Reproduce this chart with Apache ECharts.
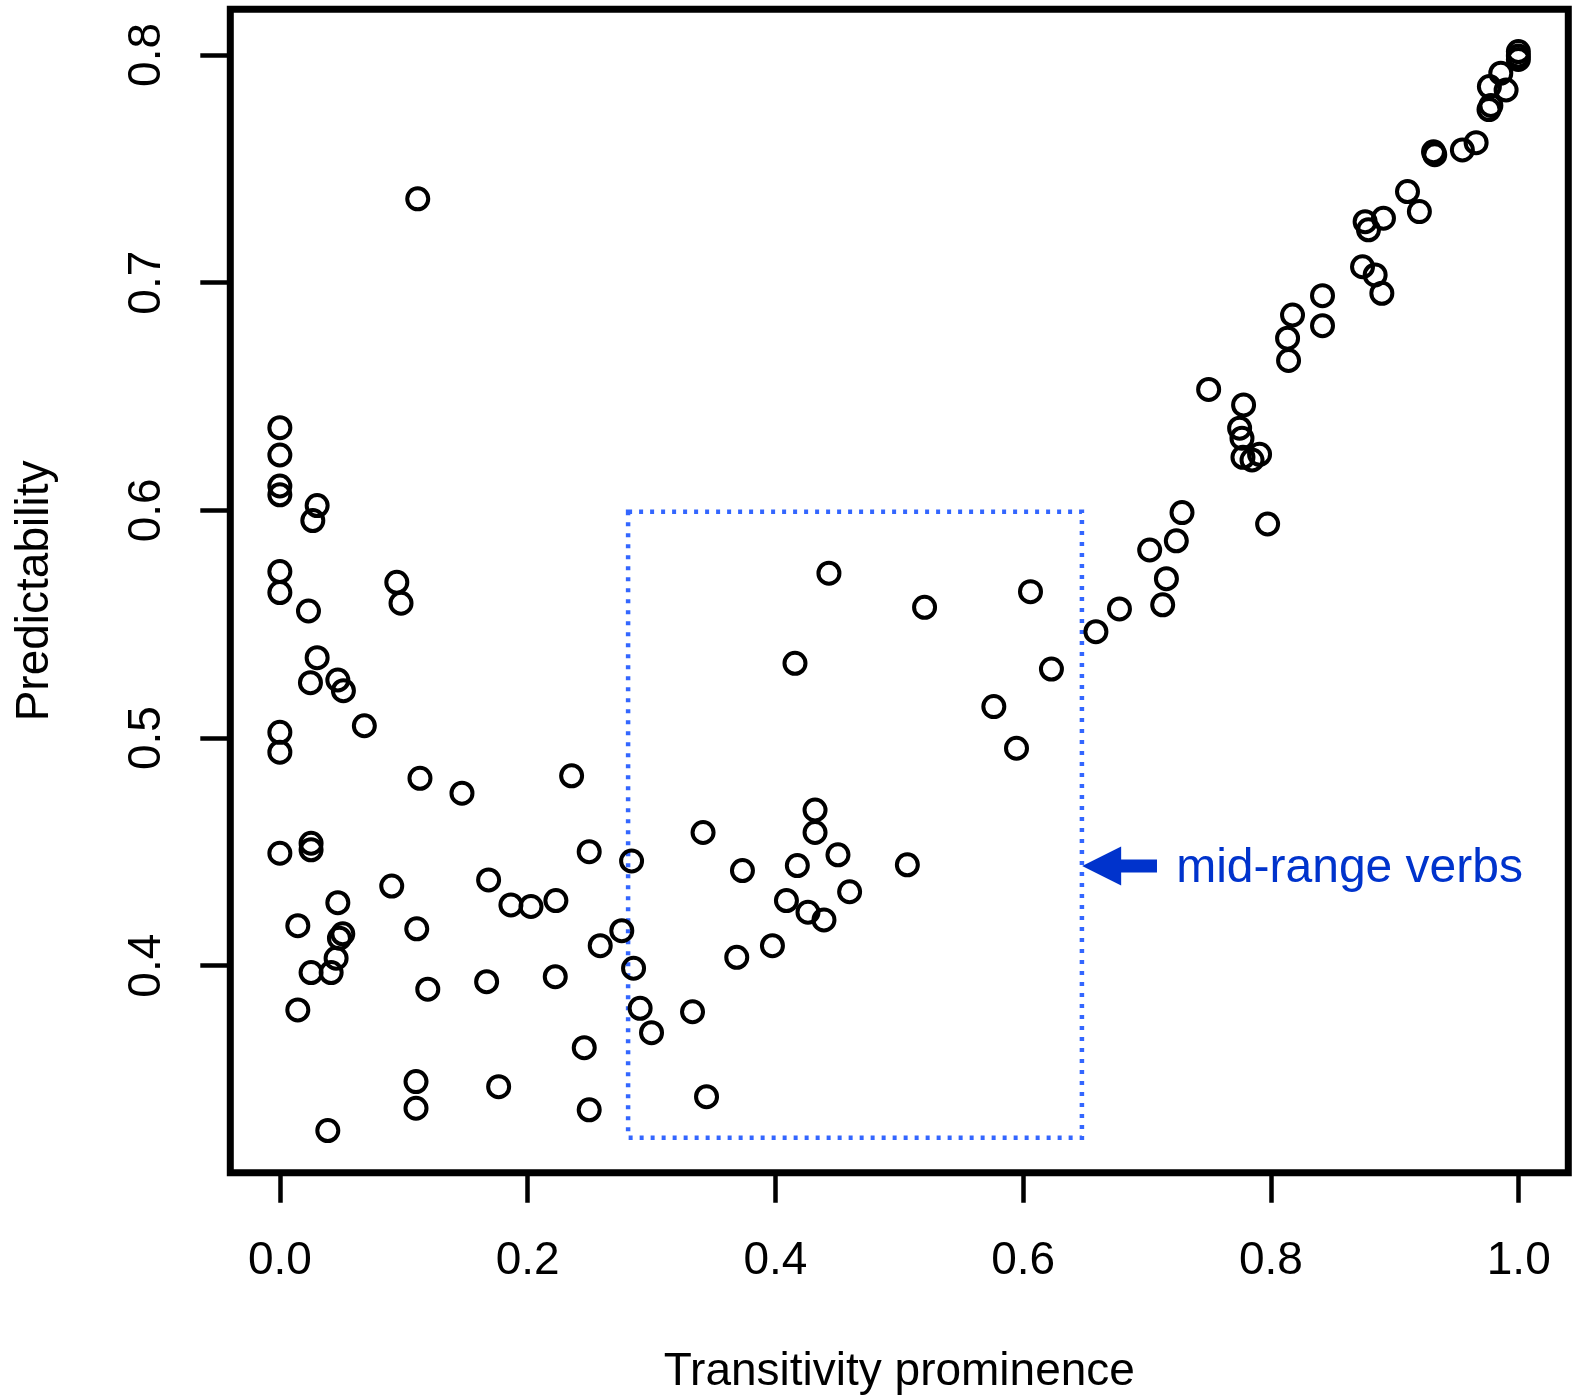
<!DOCTYPE html>
<html>
<head>
<meta charset="utf-8">
<script src="https://cdn.jsdelivr.net/npm/echarts@6/dist/echarts.min.js"></script>
<style>
html,body{margin:0;padding:0;background:#fff;}
#chart{width:1573px;height:1398px;}
</style>
</head>
<body>
<div id="chart"></div>
<script>
// ---- data ----
const transitivity = [
  0.1113, 0.0000, 0.0000, 0.0000, 0.0000, 0.0301, 0.0266, 0.0000, 0.0000, 0.0231,
  0.0944, 0.0978, 0.0301, 0.0247, 0.0468, 0.0513, 0.0682, 0.0000, 0.0000, 0.1131,
  0.1470, 0.2355, 0.0000, 0.0252, 0.0252, 0.0903, 0.0468, 0.0145, 0.0508, 0.0481,
  0.0454, 0.0252, 0.0414, 0.0145, 0.0387, 0.1105, 0.1194, 0.1099, 0.1099, 0.1685,
  0.1865, 0.2027, 0.2228, 0.1669, 0.2223, 0.1766, 0.2497, 0.2839, 0.2760, 0.2586,
  0.2855, 0.2908, 0.3000, 0.2457, 0.2497, 0.4432, 0.5204, 0.6059, 0.6587, 0.4158,
  0.6228, 0.5763, 0.5946, 0.4320, 0.4320, 0.3416, 0.3734, 0.4177, 0.4505, 0.5065,
  0.4599, 0.4089, 0.4263, 0.4392, 0.3976, 0.3688, 0.3331, 0.3444, 0.8142, 0.7497,
  0.7779, 0.7747, 0.7766, 0.7774, 0.7847, 0.7908, 0.7973, 0.7282, 0.7236, 0.7021,
  0.7156, 0.7126, 0.6777, 0.8134, 0.8174, 0.8416, 0.8416, 0.8739, 0.8841, 0.8895,
  0.8760, 0.8787, 0.8908, 0.9102, 0.9198, 0.9312, 0.9322, 0.9545, 0.9656, 0.9760,
  0.9775, 0.9763, 0.9855, 0.9898, 0.9997, 0.9997, 0.9997
];
const predictability = [
  0.7368, 0.6363, 0.6243, 0.6107, 0.6068, 0.6021, 0.5955, 0.5731, 0.5639, 0.5558,
  0.5684, 0.5592, 0.5353, 0.5243, 0.5255, 0.5208, 0.5054, 0.5025, 0.4938, 0.4823,
  0.4758, 0.4834, 0.4494, 0.4538, 0.4509, 0.4350, 0.4277, 0.4176, 0.4140, 0.4121,
  0.4033, 0.3970, 0.3970, 0.3806, 0.3276, 0.4162, 0.3897, 0.3491, 0.3374, 0.4377,
  0.4267, 0.4260, 0.4286, 0.3930, 0.3952, 0.3469, 0.4501, 0.4460, 0.4154, 0.4088,
  0.3989, 0.3813, 0.3706, 0.3640, 0.3367, 0.5724, 0.5574, 0.5643, 0.5467, 0.5328,
  0.5303, 0.5138, 0.4955, 0.4684, 0.4585, 0.4585, 0.4418, 0.4440, 0.4487, 0.4443,
  0.4325, 0.4286, 0.4235, 0.4201, 0.4088, 0.4037, 0.3798, 0.3425, 0.6658, 0.6531,
  0.6463, 0.6361, 0.6317, 0.6233, 0.6221, 0.6246, 0.5940, 0.5990, 0.5866, 0.5826,
  0.5700, 0.5585, 0.5567, 0.6756, 0.6858, 0.6811, 0.6943, 0.7070, 0.7034, 0.6953,
  0.7268, 0.7232, 0.7283, 0.7400, 0.7312, 0.7575, 0.7562, 0.7583, 0.7615, 0.7760,
  0.7778, 0.7861, 0.7920, 0.7846, 0.8015, 0.7995, 0.7980
];
const xTicks = [0.0, 0.2, 0.4, 0.6, 0.8, 1.0];
const yTicks = [0.4, 0.5, 0.6, 0.7, 0.8];
const xTitle = 'Transitivity prominence';
const yTitle = 'Predictability';
// annotation (data coordinates)
const boxX = [0.2811, 0.6474];
const boxY = [0.3245, 0.5994];
const arrowTip = [0.6476, 0.4438];
const arrowTailX = [0.7080];
const noteText = ['mid-range verbs'];
const notePos = [0.7235, 0.4425];

const points = transitivity.map((x, i) => [x, predictability[i]]);

const FONT = '"Liberation Sans", Arial, Helvetica, sans-serif';
const chart = echarts.init(document.getElementById('chart'), null, {renderer: 'canvas'});

const option = {
  backgroundColor: '#ffffff',
  animation: false,
  grid: {
    left: 230.3, right: 4.7, top: 9.2, bottom: 225.3,
    containLabel: false, outerBoundsMode: 'none',
    show: true, borderColor: '#000', borderWidth: 7, backgroundColor: '#fff'
  },
  xAxis: {
    type: 'value', min: -0.04, max: 1.04,
    axisLine: {show: false, onZero: false},
    splitLine: {show: false},
    axisTick: {show: true, customValues: xTicks, length: 30, lineStyle: {color: '#000', width: 4.5}},
    axisLabel: {customValues: xTicks, formatter: v => v.toFixed(1), fontSize: 46, fontFamily: FONT, color: '#000', margin: 66},
    name: xTitle, nameLocation: 'middle', nameGap: 177,
    nameTextStyle: {fontSize: 46, fontFamily: FONT, color: '#000'}
  },
  yAxis: {
    type: 'value', min: 0.3091, max: 0.8201,
    axisLine: {show: false, onZero: false},
    splitLine: {show: false},
    axisTick: {show: true, customValues: yTicks, length: 30, lineStyle: {color: '#000', width: 4.5}},
    axisLabel: {customValues: yTicks, formatter: v => v.toFixed(1), rotate: 90, fontSize: 46, fontFamily: FONT, color: '#000', margin: 60},
    name: yTitle, nameLocation: 'middle', nameGap: 172,
    nameTextStyle: {fontSize: 46, fontFamily: FONT, color: '#000'}
  },
  series: [
    {
      type: 'custom',
      coordinateSystem: 'cartesian2d',
      silent: true,
      z: 1,
      data: [[boxX[0], boxY[0]]],
      renderItem: function (params, api) {
        const p1 = api.coord([boxX[0], boxY[1]]);
        const p2 = api.coord([boxX[1], boxY[0]]);
        return {
          type: 'rect',
          shape: {x: p1[0], y: p1[1], width: p2[0] - p1[0], height: p2[1] - p1[1]},
          style: {fill: 'none', stroke: '#3366ff', lineWidth: 4.5, lineDash: [4, 7]}
        };
      }
    },
    {
      type: 'scatter',
      data: points,
      symbol: 'circle',
      symbolSize: 21,
      silent: true,
      z: 3,
      itemStyle: {color: 'rgba(0,0,0,0)', borderColor: '#000', borderWidth: 4, opacity: 1},
      emphasis: {disabled: true}
    },
    {
      type: 'custom',
      coordinateSystem: 'cartesian2d',
      silent: true,
      z: 4,
      data: [[arrowTip[0], arrowTip[1]]],
      renderItem: function (params, api) {
        const tip = api.coord(arrowTip);
        const tail = api.coord([arrowTailX[0], arrowTip[1]]);
        const note = api.coord(notePos);
        const headLen = 39, headHalf = 19.5, shaftHalf = 6.5;
        const hx = tip[0] + headLen;
        return {
          type: 'group',
          children: [
            {
              type: 'polygon',
              shape: {points: [
                [tip[0], tip[1]],
                [hx, tip[1] - headHalf],
                [hx, tip[1] - shaftHalf],
                [tail[0], tip[1] - shaftHalf],
                [tail[0], tip[1] + shaftHalf],
                [hx, tip[1] + shaftHalf],
                [hx, tip[1] + headHalf]
              ]},
              style: {fill: '#0033cc'}
            },
            {
              type: 'text',
              style: {
                text: noteText[0], x: note[0], y: note[1],
                fill: '#0033cc', font: '48px ' + FONT,
                textAlign: 'left', textVerticalAlign: 'middle'
              }
            }
          ]
        };
      }
    }
  ]
};
chart.setOption(option);
</script>
</body>
</html>
